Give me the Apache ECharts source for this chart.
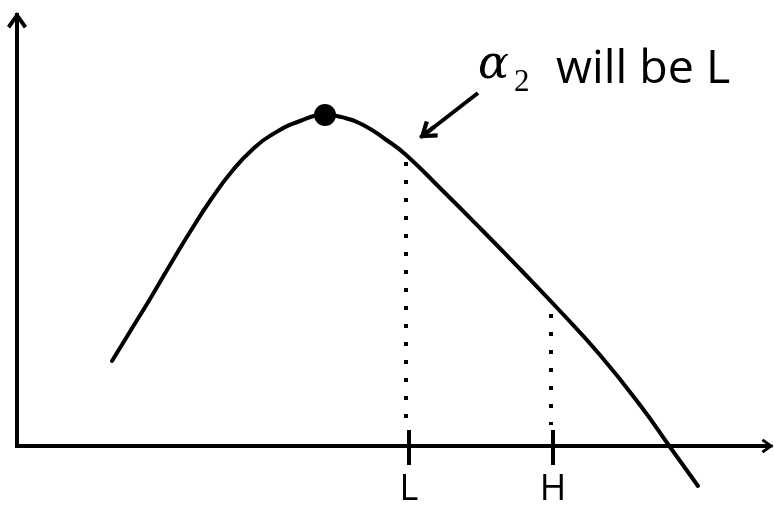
<!DOCTYPE html>
<html>
<head>
<meta charset="utf-8">
<script src="https://cdn.jsdelivr.net/npm/echarts@6/dist/echarts.min.js"></script>
<style>
html,body{margin:0;padding:0;background:#fff;}
#c{width:774px;height:512px;}
</style>
</head>
<body>
<div id="c"></div>
<script>
// Curve (schematic units)
const curveX = [95,114,133,153,173,195,216,236,256,283,308,328,348,368,388,423,463,503,543,583,623,653,681];
const curveY = [85,116,147,181,214,248,276,297,312,325,331,328,320,307,292,258,218,177,135,91,41,-1,-40];
// Peak point
const peakX = [308];
const peakY = [331];
// Marked values on x axis
const markValues = [392, 536];
const markLabels = ['L', 'H'];
// Dotted drop lines
const dropX = [389, 534];
const dropTop = [284, 132];
const dropBottom = [28, 21];
// Annotation arrow
const arrowFrom = [461, 353];
const arrowTo = [410, 313.5];

const chevron = 'path://M0,14 L10,0 L20,14 L16.8,16.6 L10,6.6 L3.2,16.6 Z M8,1 L12,1 L12,18 L8,18 Z';

const chart = echarts.init(document.getElementById('c'), null, {renderer: 'canvas'});

const series = [];
series.push({
  type: 'line',
  data: curveX.map((x, i) => [x, curveY[i]]),
  smooth: 0.5,
  showSymbol: false,
  clip: false,
  silent: true,
  lineStyle: {color: '#000', width: 4, cap: 'round'},
  markLine: {
    silent: true,
    animation: false,
    symbol: ['none', chevron],
    symbolSize: [21, 19],
    label: {show: false},
    lineStyle: {color: '#000', width: 4, type: 'solid'},
    emphasis: {disabled: true},
    data: [[{coord: arrowFrom}, {coord: arrowTo}]]
  }
});
dropX.forEach((x, i) => {
  series.push({
    type: 'line',
    data: [[x, dropTop[i]], [x, dropBottom[i]]],
    showSymbol: false,
    clip: false,
    silent: true,
    lineStyle: {color: '#000', width: 4, type: [4, 14], cap: 'butt'}
  });
});
markValues.forEach((x) => {
  series.push({
    type: 'line',
    data: [[x, 16], [x, -19]],
    showSymbol: false,
    clip: false,
    silent: true,
    lineStyle: {color: '#000', width: 4}
  });
});
series.push({
  type: 'scatter',
  data: peakX.map((x, i) => [x, peakY[i]]),
  symbolSize: 22,
  silent: true,
  itemStyle: {color: '#000', opacity: 1}
});

chart.setOption({
  animation: false,
  backgroundColor: '#fff',
  grid: {left: 17, right: 7, top: 21, bottom: 66},
  xAxis: {
    type: 'value', min: 0, max: 750,
    axisLine: {show: true, onZero: false, symbol: ['none', chevron], symbolSize: [20, 13],
      lineStyle: {color: '#000', width: 4, cap: 'square'}},
    axisTick: {show: false},
    splitLine: {show: false},
    axisLabel: {
      customValues: markValues,
      formatter: (v) => markLabels[markValues.indexOf(v)],
      fontFamily: 'Open Sans', fontSize: 36, color: '#000', margin: 26
    }
  },
  yAxis: {
    type: 'value', min: 0, max: 425,
    axisLine: {show: true, symbol: ['none', chevron], symbolSize: [20, 18],
      lineStyle: {color: '#000', width: 4, cap: 'square'}},
    axisTick: {show: false},
    splitLine: {show: false},
    axisLabel: {show: false}
  },
  graphic: [
    {type: 'text', x: 478, y: 66, silent: true,
      style: {text: 'α', font: 'italic 46px "DejaVu Serif"', fill: '#000', align: 'left', verticalAlign: 'middle'}},
    {type: 'text', x: 514, y: 83, silent: true,
      style: {text: '2', font: '31px "Liberation Serif"', fill: '#000', align: 'left', verticalAlign: 'middle'}},
    {type: 'text', x: 556, y: 70, silent: true,
      style: {text: 'will be L', font: '46.5px "Open Sans"', fill: '#000', align: 'left', verticalAlign: 'middle'}}
  ],
  series: series
});
</script>
</body>
</html>
